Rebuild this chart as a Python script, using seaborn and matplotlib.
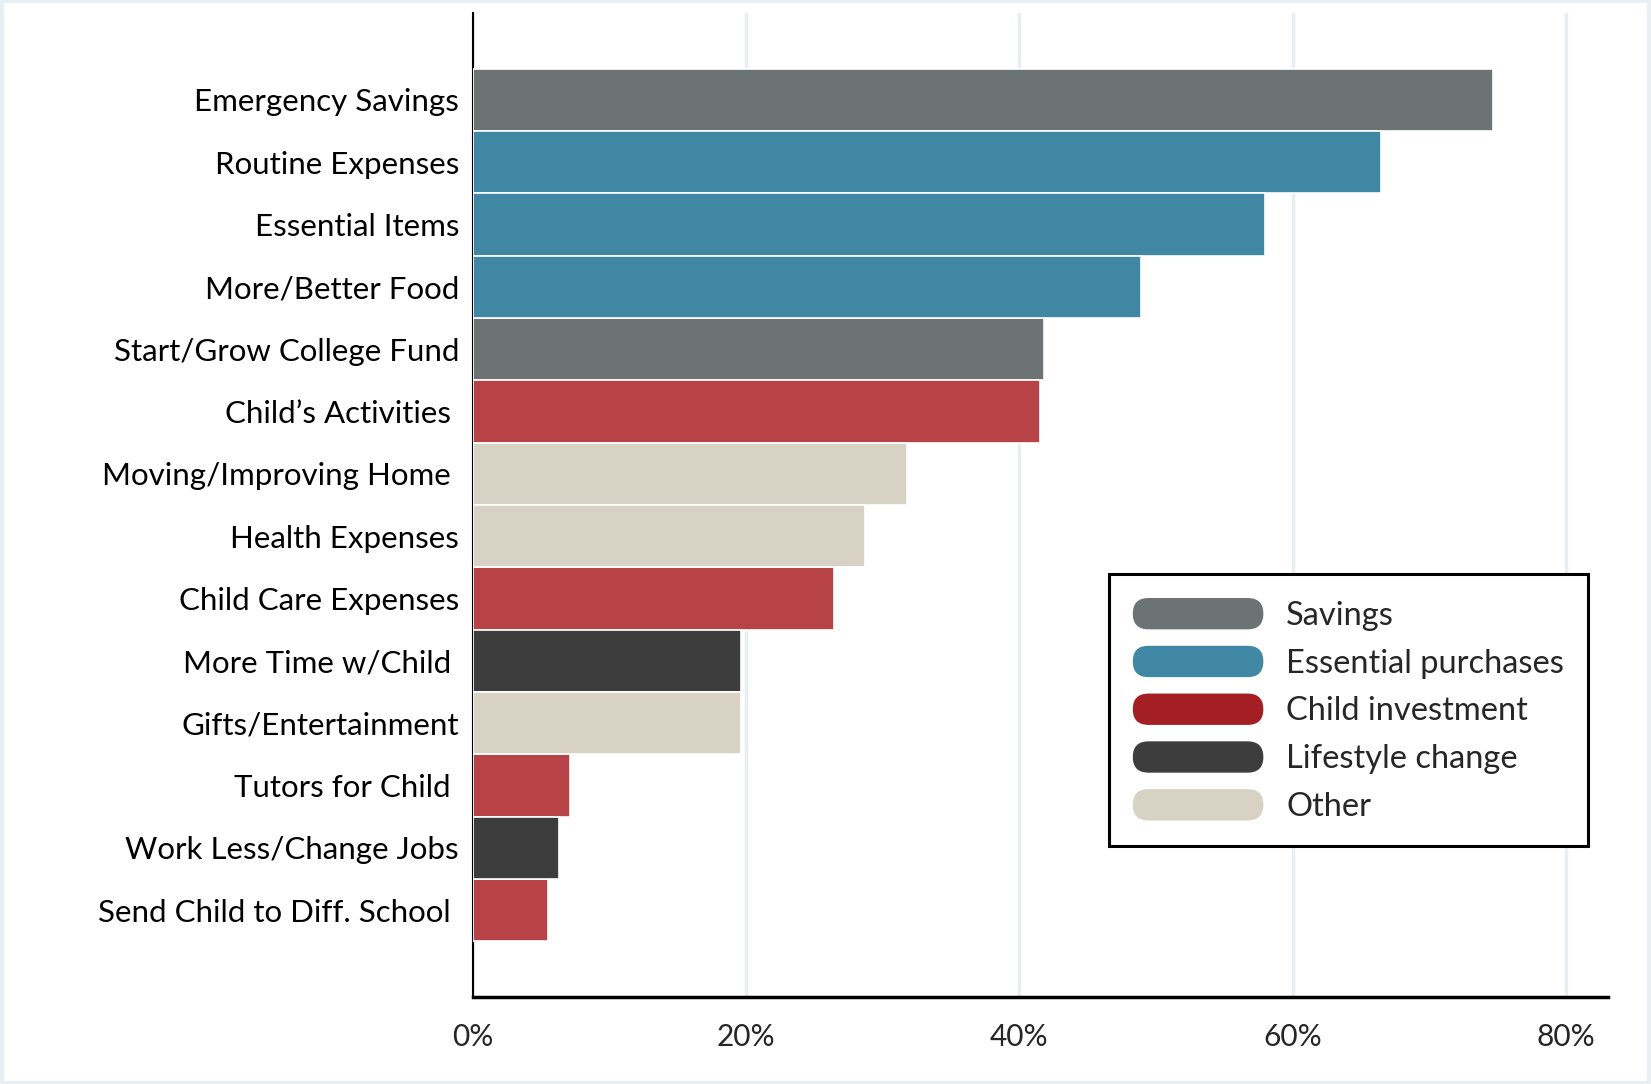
import pandas as pd
import matplotlib.pyplot as plt
import seaborn as sns
from matplotlib.patches import Rectangle, FancyBboxPatch, Patch
from matplotlib.legend_handler import HandlerBase

# Chart data
uses = ['Emergency Savings', 'Routine Expenses', 'Essential Items', 'More/Better Food',
        'Start/Grow College Fund', 'Child\u2019s Activities ', 'Moving/Improving Home ',
        'Health Expenses', 'Child Care Expenses', 'More Time w/Child ', 'Gifts/Entertainment',
        'Tutors for Child ', 'Work Less/Change Jobs', 'Send Child to Diff. School ']
shares = [74.7, 66.5, 58.0, 48.9, 41.8, 41.5, 31.8, 28.7, 26.4, 19.65, 19.6, 7.1, 6.3, 5.5]
groups = ['Savings', 'Essential purchases', 'Essential purchases', 'Essential purchases',
          'Savings', 'Child investment', 'Other', 'Other', 'Child investment',
          'Lifestyle change', 'Other', 'Child investment', 'Lifestyle change', 'Child investment']
group_order = ['Savings', 'Essential purchases', 'Child investment', 'Lifestyle change', 'Other']
bar_colors = {'Savings': '#6b7472', 'Essential purchases': '#3f87a3',
              'Child investment': '#b84346', 'Lifestyle change': '#3d3d3d', 'Other': '#d8d2c5'}
key_colors = {'Savings': '#6b7472', 'Essential purchases': '#3f87a3',
              'Child investment': '#a41f24', 'Lifestyle change': '#3d3d3d', 'Other': '#d8d2c5'}
xticks = [0, 20, 40, 60, 80]

df = pd.DataFrame({'use': uses, 'share': shares, 'group': groups})


class RoundKey(HandlerBase):
    """Legend key drawn as a pill shape filling the handle box."""
    def create_artists(self, legend, orig_handle, xdescent, ydescent,
                       width, height, fontsize, trans):
        p = FancyBboxPatch((-xdescent, -ydescent), width, height,
                           boxstyle=f"round,pad=0,rounding_size={height / 2}",
                           facecolor=orig_handle.get_facecolor(), edgecolor='none',
                           transform=trans)
        return [p]


sns.set_theme(style="white")
plt.rcParams['font.family'] = ['Lato', 'DejaVu Sans']

fig = plt.figure(figsize=(16.51, 10.84), dpi=100)
ax = fig.add_axes([0.2865, 0.0803, 0.6875, 0.9077])

sns.barplot(data=df, x='share', y='use', hue='group', hue_order=group_order,
            palette=bar_colors, saturation=1, dodge=False, width=1.0, orient='h',
            edgecolor='white', linewidth=1.2, legend=False, ax=ax, zorder=3)

ax.set_xlim(0, 83.1)
ax.set_ylim(len(uses) - 1 + 1.39, -1.39)
ax.set_xticks(xticks)
ax.set_xticklabels([f'{t}%' for t in xticks], fontsize=21.5,
                   family=['Liberation Sans Narrow', 'Lato'])
ax.tick_params(axis='x', direction='out', length=16, width=1.5, color='black', pad=3)
ax.tick_params(axis='y', length=0, pad=10, labelsize=22.5)
for lbl in ax.get_yticklabels():
    lbl.set_color('black')
ax.set_xlabel('')
ax.set_ylabel('')

ax.grid(axis='x', color='#e8eff2', linewidth=2.5, zorder=0)
ax.set_axisbelow(True)
for side in ['top', 'right']:
    ax.spines[side].set_visible(False)
ax.spines['left'].set_color('black')
ax.spines['left'].set_linewidth(1.5)
ax.spines['bottom'].set_color('black')
ax.spines['bottom'].set_linewidth(2.5)

handles = [Patch(facecolor=key_colors[g]) for g in group_order]
leg = ax.legend(handles, group_order, loc='upper left', bbox_to_anchor=(0.56, 0.43),
                fontsize=23.5, frameon=True, fancybox=False,
                handler_map={Patch: RoundKey()},
                handlelength=4.0, handleheight=1.1, handletextpad=0.7,
                labelspacing=0.46, borderpad=0.74, borderaxespad=0)
leg.get_frame().set_edgecolor('black')
leg.get_frame().set_linewidth(2.2)
leg.get_frame().set_facecolor('white')
leg.get_frame().set_alpha(1)
leg.set_zorder(5)

# faint frame around the whole picture
fig.patches.append(Rectangle((0.001, 0.001), 0.998, 0.998, transform=fig.transFigure,
                             fill=False, edgecolor='#e8eff2', linewidth=3))

fig.savefig('out.png', dpi=100)
